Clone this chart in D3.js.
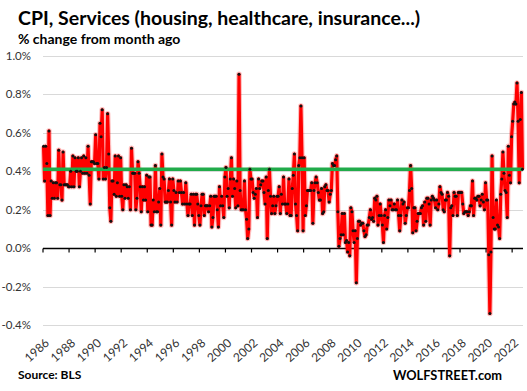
<!DOCTYPE html>
<html>
<head>
<meta charset="utf-8">
<script src="https://cdn.jsdelivr.net/npm/d3@7"></script>
<style>
  body { margin: 0; background: #fff; }
  text { font-family: Lato, "Open Sans", sans-serif; }
</style>
</head>
<body>
<script>
var width = 527, height = 391;

// monthly % change, Jan 1986 .. Oct 2022
var v1986_1991 = [
  0.53, 0.35, 0.53, 0.44, 0.17, 0.61, 0.17, 0.35, 0.26, 0.34, 0.26, 0.34,
  0.34, 0.26, 0.51, 0.33, 0.33, 0.25, 0.50, 0.33, 0.33, 0.33, 0.33, 0.32,
  0.32, 0.40, 0.32, 0.48, 0.32, 0.47, 0.40, 0.40, 0.47, 0.32, 0.40, 0.47,
  0.39, 0.48, 0.39, 0.47, 0.39, 0.53, 0.38, 0.23, 0.45, 0.45, 0.45, 0.44,
  0.59, 0.44, 0.44, 0.36, 0.65, 0.58, 0.72, 0.36, 0.42, 0.36, 0.42, 0.70,
  0.49, 0.21, 0.14, 0.35, 0.35, 0.28, 0.48, 0.27, 0.34, 0.48, 0.27, 0.47
];
var v1992_1997 = [
  0.27, 0.20, 0.33, 0.26, 0.33, 0.32, 0.26, 0.32, 0.20, 0.52, 0.39, 0.39,
  0.39, 0.20, 0.26, 0.45, 0.39, 0.32, 0.19, 0.32, 0.25, 0.32, 0.25, 0.38,
  0.19, 0.37, 0.37, 0.12, 0.12, 0.25, 0.19, 0.43, 0.19, 0.19, 0.24, 0.31,
  0.12, 0.49, 0.37, 0.36, 0.24, 0.24, 0.24, 0.30, 0.36, 0.24, 0.12, 0.36,
  0.30, 0.24, 0.29, 0.24, 0.35, 0.29, 0.35, 0.29, 0.23, 0.29, 0.23, 0.34,
  0.23, 0.17, 0.23, 0.23, 0.28, 0.17, 0.28, 0.12, 0.28, 0.28, 0.23, 0.17
];
var v1998_2003 = [
  0.12, 0.22, 0.28, 0.28, 0.17, 0.22, 0.22, 0.22, 0.19, 0.22, 0.27, 0.11,
  0.16, 0.27, 0.27, 0.27, 0.20, 0.11, 0.32, 0.22, 0.27, 0.22, 0.16, 0.37,
  0.42, 0.27, 0.31, 0.21, 0.36, 0.47, 0.27, 0.36, 0.31, 0.21, 0.35, 0.22,
  0.905, 0.30, 0.20, 0.20, 0.20, 0.35, 0.20, 0.15, 0.05, 0.10, 0.41, 0.36,
  0.36, 0.29, 0.26, 0.28, 0.31, 0.16, 0.36, 0.31, 0.33, 0.35, 0.35, 0.29,
  0.23, 0.37, 0.05, 0.30, 0.41, 0.27, 0.18, 0.22, 0.27, 0.18, 0.22, 0.27
];
var v2004_2009 = [
  0.27, 0.32, 0.18, 0.28, 0.23, 0.37, 0.23, 0.23, 0.18, 0.23, 0.36, 0.17,
  0.17, 0.31, 0.38, 0.49, 0.23, 0.17, 0.09, 0.43, 0.47, 0.74, 0.47, 0.09,
  0.47, 0.17, 0.22, 0.30, 0.30, 0.30, 0.30, 0.34, 0.13, 0.30, 0.34, 0.37,
  0.34, 0.29, 0.25, 0.25, 0.31, 0.18, 0.19, 0.32, 0.33, 0.30, 0.30, 0.24,
  0.28, 0.30, 0.44, 0.43, 0.43, 0.46, 0.48, 0.19, 0.01, 0.05, 0.07, 0.18,
  0.07, 0.18, 0.03, 0.04, -0.02, 0.03, -0.04, 0.21, 0.19, 0.09, 0.03, 0.09
];
var v2010_2015 = [
  -0.18, 0.05, 0.14, 0.14, 0.12, 0.13, 0.13, 0.09, 0.06, 0.07, 0.12, 0.12,
  0.16, 0.20, 0.15, 0.16, 0.14, 0.26, 0.25, 0.27, 0.12, 0.17, 0.23, 0.17,
  0.12, 0.03, 0.17, 0.20, 0.10, 0.16, 0.25, 0.22, 0.25, 0.20, 0.20, 0.23,
  0.20, 0.20, 0.25, 0.17, 0.09, 0.17, 0.25, 0.23, 0.24, 0.13, 0.17, 0.21,
  0.21, 0.30, 0.43, 0.31, 0.08, 0.21, 0.21, 0.09, 0.14, 0.18, 0.18, 0.18,
  0.21, 0.22, 0.12, 0.24, 0.14, 0.26, 0.26, 0.23, 0.12, 0.25, 0.27, 0.26
];
var v2016_2022 = [
  0.25, 0.21, 0.25, 0.20, 0.23, 0.32, 0.29, 0.28, 0.20, 0.19, 0.25, 0.25,
  0.29, 0.27, -0.04, 0.21, 0.22, 0.17, 0.29, 0.27, 0.27, 0.17, 0.29, 0.29,
  0.29, 0.29, 0.23, 0.18, 0.19, 0.19, 0.19, 0.17, 0.19, 0.22, 0.22, 0.35,
  0.17, 0.26, 0.26, 0.25, 0.27, 0.27, 0.22, 0.25, 0.28, 0.24, 0.20, 0.34,
  0.25, 0.25, -0.035, -0.34, -0.02, 0.48, 0.16, 0.10, 0.10, 0.25, 0.12, 0.11,
  0.05, 0.28, 0.36, 0.50, 0.39, 0.30, 0.29, 0.16, 0.53, 0.38, 0.34, 0.58,
  0.66, 0.75, 0.76, 0.75, 0.86, 0.66, 0.34, 0.67, 0.81, 0.41
];
var average = 0.41;
var startYear = 1986;
var yTicks = [-0.4, -0.2, 0.0, 0.2, 0.4, 0.6, 0.8, 1.0];
var yearLabels = d3.range(1986, 2023, 2);

var values = [].concat(v1986_1991, v1992_1997, v1998_2003, v2004_2009, v2010_2015, v2016_2022);
var n = values.length;

var plotLeft = 43, plotRight = 523, plotTop = 56, plotBottom = 325;

var x = d3.scaleLinear().domain([0, n]).range([plotLeft, plotRight]);
var y = d3.scaleLinear().domain([-0.4, 1.0]).range([plotBottom, plotTop]);

var svg = d3.select("body").append("svg")
    .attr("width", width)
    .attr("height", height);

// title
svg.append("text")
    .attr("x", 18).attr("y", 25)
    .style("font-size", "19.5px").style("font-weight", "bold")
    .text("CPI, Services (housing, healthcare, insurance...)");
svg.append("text")
    .attr("x", 18).attr("y", 44)
    .style("font-size", "14px").style("font-weight", "bold")
    .text("% change from month ago");

// gridlines
svg.append("g").selectAll("line")
    .data(yTicks.filter(function(d) { return d !== 0; }))
    .enter().append("line")
    .attr("x1", plotLeft).attr("x2", plotRight)
    .attr("y1", function(d) { return Math.round(y(d)) + 0.5; })
    .attr("y2", function(d) { return Math.round(y(d)) + 0.5; })
    .attr("stroke", "#d9d9d9").attr("stroke-width", 1);

// y labels
svg.append("g").selectAll("text")
    .data(yTicks)
    .enter().append("text")
    .attr("x", 31)
    .attr("y", function(d) { return y(d); })
    .attr("dy", "0.35em")
    .attr("text-anchor", "end")
    .style("font-size", "11.5px")
    .style("fill", "#333")
    .text(function(d) { return d.toFixed(1) + "%"; });

// zero axis with ticks every two years
var y0 = Math.round(y(0)) + 0.5;
svg.append("line")
    .attr("x1", plotLeft).attr("x2", plotRight)
    .attr("y1", y0).attr("y2", y0)
    .attr("stroke", "#000").attr("stroke-width", 1.3);
svg.append("g").selectAll("line")
    .data(yearLabels)
    .enter().append("line")
    .attr("x1", function(d) { return x((d - startYear) * 12); })
    .attr("x2", function(d) { return x((d - startYear) * 12); })
    .attr("y1", y0).attr("y2", y0 + 4)
    .attr("stroke", "#000").attr("stroke-width", 1.2);

// x labels at bottom
svg.append("g").selectAll("text")
    .data(yearLabels)
    .enter().append("text")
    .attr("transform", function(d) {
        return "translate(" + (x((d - startYear) * 12) + 7) + ",344) rotate(-42)";
    })
    .attr("text-anchor", "end")
    .style("font-size", "12px")
    .style("fill", "#333")
    .text(function(d) { return d; });

// series
var line = d3.line()
    .x(function(d, i) { return x(i + 0.5); })
    .y(function(d) { return y(d); });

svg.append("path")
    .datum(values)
    .attr("d", line)
    .attr("fill", "none")
    .attr("stroke", "rgba(255,0,0,0.25)")
    .attr("stroke-width", 5.5)
    .attr("stroke-linejoin", "round");
svg.append("path")
    .datum(values)
    .attr("d", line)
    .attr("fill", "none")
    .attr("stroke", "#ff0000")
    .attr("stroke-width", 3.2)
    .attr("stroke-linejoin", "round");

// average line
svg.append("line")
    .attr("x1", plotLeft).attr("x2", plotRight)
    .attr("y1", y(average)).attr("y2", y(average))
    .attr("stroke", "#21ab4a").attr("stroke-width", 3.5);

svg.append("g").selectAll("circle")
    .data(values)
    .enter().append("circle")
    .attr("cx", function(d, i) { return x(i + 0.5); })
    .attr("cy", function(d) { return y(d); })
    .attr("r", 1.5)
    .attr("fill", "#111");

// footer
svg.append("text")
    .attr("x", 18).attr("y", 379)
    .style("font-size", "12px").style("font-weight", "bold")
    .text("Source: BLS");
svg.append("text")
    .attr("x", 502).attr("y", 380)
    .attr("text-anchor", "end")
    .style("font-size", "12.8px").style("font-weight", "bold")
    .text("WOLFSTREET.com");
</script>
</body>
</html>
